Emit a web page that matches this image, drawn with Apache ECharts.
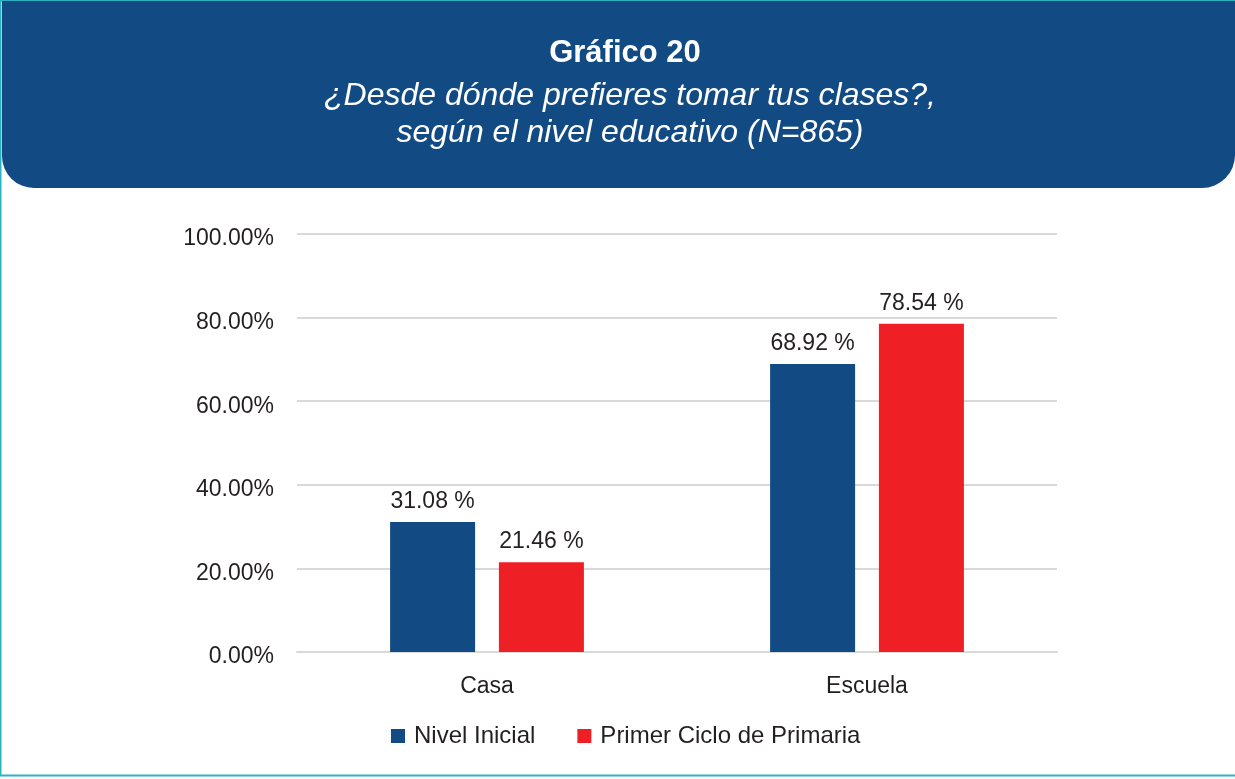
<!DOCTYPE html>
<html>
<head>
<meta charset="utf-8">
<script src="https://cdn.jsdelivr.net/npm/echarts@6/dist/echarts.min.js"></script>
<style>
html,body{margin:0;padding:0;background:#fff;}
#c{width:1235px;height:779px;}
</style>
</head>
<body>
<div id="c"></div>
<script>
const categories = ['Casa', 'Escuela'];
const seriesNames = ['Nivel Inicial', 'Primer Ciclo de Primaria'];
const nivelInicial = [31.08, 68.92];
const primerCiclo = [21.46, 78.54];
const yTicks = [0, 20, 40, 60, 80, 100];
const titleText = 'Gráfico 20';
const subtitleText = '¿Desde dónde prefieres tomar tus clases?,\nsegún el nivel educativo (N=865)';

const BLUE = '#124a84';
const RED = '#ee1f25';
const FONT = "'Liberation Sans', Arial, sans-serif";

const chart = echarts.init(document.getElementById('c'), null, {renderer: 'canvas'});
chart.setOption({
  backgroundColor: '#fff',
  animation: false,
  graphic: [
    {type: 'rect', z: -1, shape: {x: 0.5, y: 0.5, width: 1236, height: 775}, style: {fill: 'none', stroke: '#2bb3c3', lineWidth: 2}},
    {type: 'rect', z: 0, shape: {x: 2, y: 1, width: 1233, height: 187, r: [0, 0, 33, 32]}, style: {fill: BLUE}},
    {type: 'text', z: 1, x: 625, y: 53, style: {text: titleText, fill: '#fff', font: 'bold 31px ' + FONT, align: 'center', verticalAlign: 'middle'}},
    {type: 'text', z: 1, x: 630, y: 115, style: {text: subtitleText, fill: '#fff', font: 'italic 32px ' + FONT, align: 'center', verticalAlign: 'middle', lineHeight: 37}}
  ],
  grid: {left: 297, right: 178, top: 234, bottom: 127, containLabel: false},
  legend: {
    data: seriesNames,
    bottom: 26,
    left: 386,
    itemWidth: 14,
    itemHeight: 14,
    itemGap: 42,
    icon: 'rect',
    textStyle: {fontFamily: FONT, fontSize: 24, color: '#231f20', padding: [0, 0, 0, 4]}
  },
  xAxis: {
    type: 'category',
    data: categories,
    axisLine: {lineStyle: {color: '#d9d9d9', width: 2}},
    axisTick: {show: false},
    axisLabel: {fontFamily: FONT, fontSize: 23, color: '#231f20', margin: 23}
  },
  yAxis: {
    type: 'value',
    min: yTicks[0],
    max: yTicks[yTicks.length - 1],
    interval: 20,
    axisLine: {show: false},
    axisTick: {show: false},
    splitLine: {lineStyle: {color: '#d9d9d9', width: 2}},
    axisLabel: {fontFamily: FONT, fontSize: 23, color: '#231f20', margin: 23, verticalAlign: 'top', lineHeight: 10, formatter: v => v.toFixed(2) + '%'}
  },
  series: [
    {
      name: seriesNames[0], type: 'bar', data: nivelInicial, barWidth: 85, barGap: '28%',
      itemStyle: {color: BLUE},
      label: {show: true, position: 'top', distance: 9, fontFamily: FONT, fontSize: 23, color: '#231f20', formatter: p => p.value.toFixed(2) + ' %'}
    },
    {
      name: seriesNames[1], type: 'bar', data: primerCiclo, barWidth: 85,
      itemStyle: {color: RED},
      label: {show: true, position: 'top', distance: 9, fontFamily: FONT, fontSize: 23, color: '#231f20', formatter: p => p.value.toFixed(2) + ' %'}
    }
  ]
});
</script>
</body>
</html>
